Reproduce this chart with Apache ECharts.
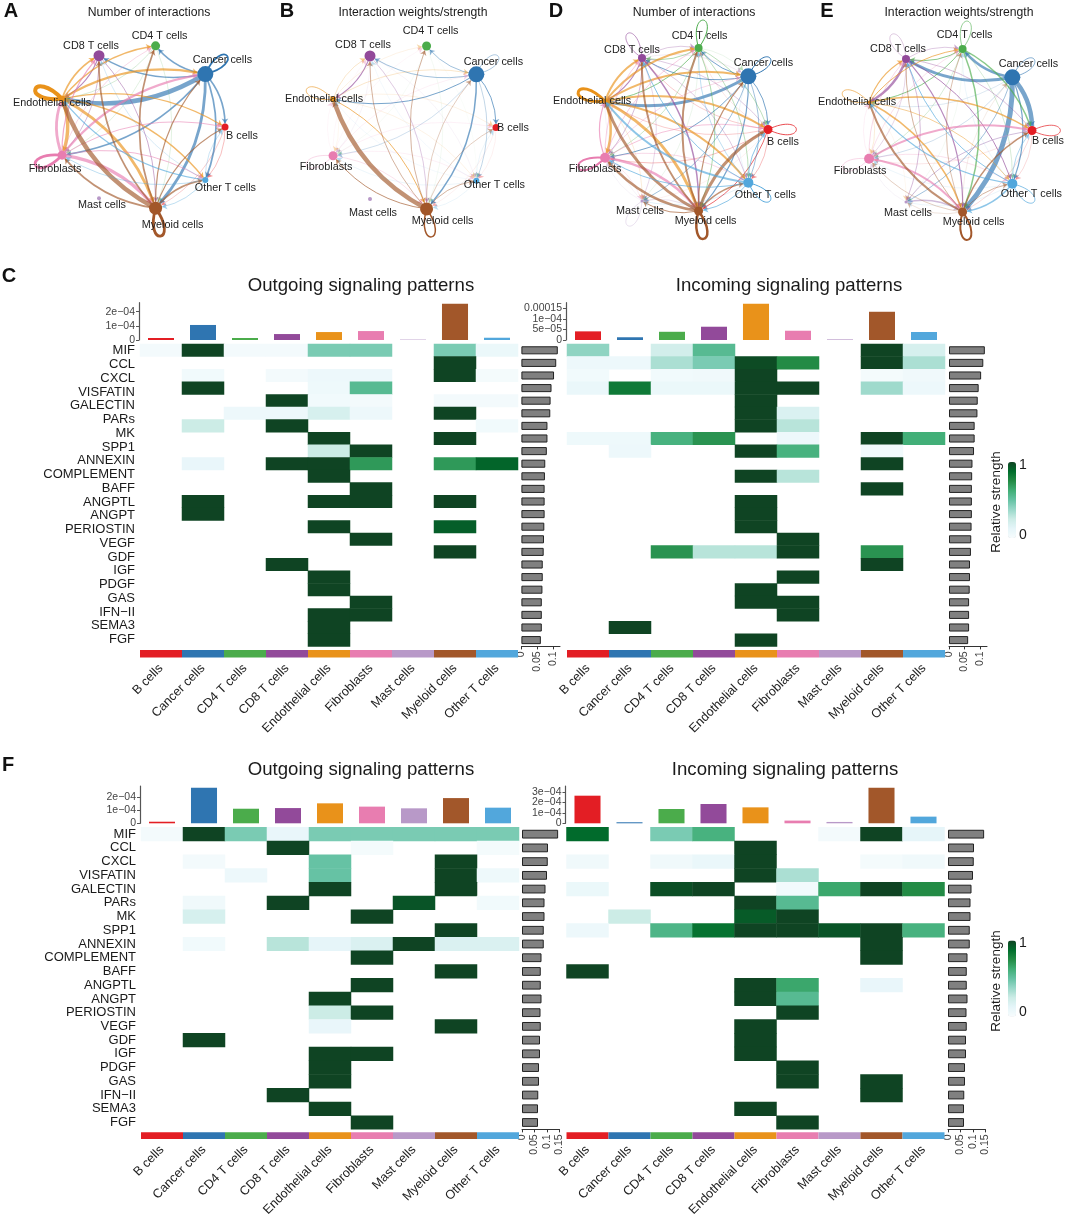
<!DOCTYPE html>
<html><head><meta charset="utf-8">
<style>html,body{margin:0;padding:0;background:#fff}#c{width:1065px;height:1219px}</style>
<script src="https://cdn.jsdelivr.net/npm/echarts@6/dist/echarts.min.js"></script>
</head><body><div id="c"></div>
<script>
const cells=['B cells','Cancer cells','CD4 T cells','CD8 T cells','Endothelial cells','Fibroblasts','Mast cells','Myeloid cells','Other T cells'];
const cellColors=['#E31E24','#2F75B1','#4BAC4B','#924A9A','#E9921A','#E87DB0','#B899C8','#A2572A','#52A7DC'];
const pathways=['MIF','CCL','CXCL','VISFATIN','GALECTIN','PARs','MK','SPP1','ANNEXIN','COMPLEMENT','BAFF','ANGPTL','ANGPT','PERIOSTIN','VEGF','GDF','IGF','PDGF','GAS','IFN\u2212II','SEMA3','FGF'];

// clockwise angle of each cell type on the circle (degrees), same order as cells
const nodeAngles=[0,320,280,240,200,160,120,80,40];
const nodeSizesAB=[7,16,9,11,6,9,4,13,6];
const nodeSizesDE=[9,16,8,8,3,10,3,9,10];

// edge weights: row = source, column = target, same order as cells
const edgesA=[
[0,0,0,0,0,0,0,.5,.6],
[1.7,1.7,1.7,1.4,4.5,1.7,0,2.8,1.7],
[0,0,0,0,.5,.4,0,.4,0],
[0,0,0,0,1.2,.7,0,.8,0],
[1.2,2.3,1.4,1.7,4,3.4,0,2.8,1.4],
[.9,2.3,.6,1.2,2.8,2.8,0,3.4,.9],
[0,0,0,0,0,0,0,0,0],
[1.2,1.2,1.7,1.7,4.5,1.7,0,2.8,1.7],
[.6,0,0,.5,1.2,.7,0,.7,0]];
const edgesB=[
[0,0,0,0,0,0,0,.2,.2],
[1,.4,.8,.8,1,.5,0,1.5,.6],
[0,0,0,0,0,.15,0,.2,.1],
[0,0,0,0,1.2,.2,0,.6,.2],
[.3,.5,.3,.5,.6,.2,0,1,.3],
[.3,.3,.2,.2,.2,.3,0,.5,.3],
[0,0,0,0,0,0,0,0,0],
[.6,.6,.8,.8,4.5,1,0,1.5,.8],
[.3,0,0,.2,.2,.3,0,.3,0]];
const edgesD=[
[.8,0,.3,.5,.5,.6,.2,1,.6],
[1,1,1,1,3,1,.8,1.2,.8],
[.7,.3,1,.8,1,.6,.3,.8,.7],
[.6,.3,.6,.6,1.2,.7,.5,1.5,.6],
[2,2,2,2,3,2.5,.4,3,2],
[.8,.6,.7,.7,1.2,2,.4,2.5,.6],
[0,0,0,0,.3,.3,.3,.6,0],
[3,1.2,2,2,3,2.5,1,2.5,1.5],
[1,.3,.7,1,2,1,.4,1,1]];
const edgesE=[
[.7,0,0,0,0,.3,0,.4,.4],
[4.5,.6,2.5,3,.4,.5,.8,5,1.2],
[1.5,0,.6,1,1,.5,.2,1.5,.5],
[.7,0,.6,.3,2.5,.5,.7,1.2,1],
[1.5,0,1,1.2,.6,.4,.2,1.5,.8],
[2,0,.5,.6,.3,.3,0,2,.5],
[1,0,0,0,0,.3,0,1.5,0],
[1.5,.3,.7,.8,2,.6,.4,2,.8],
[.8,0,.3,1,1.2,.3,.3,1.5,.7]];

// panel C, relative strength, columns follow cells; 24 drawn rows
const heatCOut=[
[.03,1,.03,.03,.45,.45,0,.45,.08],
[0,0,0,0,0,0,0,1,0],
[0,.04,0,.03,.07,.07,0,1,.02],
[0,1,0,0,.06,.55,0,0,0],
[0,0,0,1,.04,.03,0,.03,.03],
[0,0,.07,.07,.2,.07,0,1,0],
[0,.25,0,1,0,0,0,0,.04],
[0,0,0,0,1,0,0,1,0],
[0,0,0,0,.25,1,0,0,0],
[0,.1,0,1,1,.7,0,.7,.9],
[0,0,0,0,1,0,0,0,0],
[0,0,0,0,0,1,0,0,0],
[0,1,0,0,1,1,0,1,0],
[0,1,0,0,0,0,0,0,0],
[0,0,0,0,1,0,0,.92,0],
[0,0,0,0,0,1,0,0,0],
[0,0,0,0,0,0,0,1,0],
[0,0,0,1,0,0,0,0,0],
[0,0,0,0,1,0,0,0,0],
[0,0,0,0,1,0,0,0,0],
[0,0,0,0,0,1,0,0,0],
[0,0,0,0,1,1,0,0,0],
[0,0,0,0,1,0,0,0,0],
[0,0,0,0,1,0,0,0,0]];
const heatCIn=[
[.4,0,.22,.55,0,0,0,1,.2],
[.07,.07,.33,.45,.98,.75,0,1,.33],
[.04,0,.04,.05,1,0,0,.02,.05],
[.09,.82,.08,.08,1,1,0,.36,.07],
[0,0,0,0,1,0,0,0,0],
[0,0,0,0,1,.18,0,0,0],
[0,0,0,0,1,.3,0,0,0],
[.06,.06,.6,.72,0,.07,0,1,.62],
[0,.07,0,0,1,.6,0,.04,0],
[0,0,0,0,0,0,0,1,0],
[0,0,0,0,1,.3,0,0,0],
[0,0,0,0,0,0,0,1,0],
[0,0,0,0,1,0,0,0,0],
[0,0,0,0,1,0,0,0,0],
[0,0,0,0,1,0,0,0,0],
[0,0,0,0,0,1,0,0,0],
[0,0,.72,.3,.3,1,0,.72,0],
[0,0,0,0,0,0,0,1,0],
[0,0,0,0,0,1,0,0,0],
[0,0,0,0,1,0,0,0,0],
[0,0,0,0,1,1,0,0,0],
[0,0,0,0,0,1,0,0,0],
[0,1,0,0,0,0,0,0,0],
[0,0,0,0,1,0,0,0,0]];
// panel F, 22 rows
const heatFOut=[
[.03,1,.45,.1,.45,.45,.45,.45,.45],
[0,0,0,1,0,.02,0,0,.02],
[0,.03,0,0,.5,0,0,1,0],
[0,0,.07,0,.5,0,0,1,.06],
[0,0,0,0,1,0,0,1,0],
[0,.05,0,1,0,0,.95,0,.04],
[0,.2,0,0,0,1,0,0,0],
[0,0,0,0,0,0,0,1,0],
[0,.04,0,.3,.12,.18,1,.18,.18],
[0,0,0,0,0,1,0,0,0],
[0,0,0,0,0,0,0,1,0],
[0,0,0,0,0,1,0,0,0],
[0,0,0,0,1,0,0,0,0],
[0,0,0,0,.25,1,0,0,0],
[0,0,0,0,.1,0,0,1,0],
[0,1,0,0,0,0,0,0,0],
[0,0,0,0,1,1,0,0,0],
[0,0,0,0,1,0,0,0,0],
[0,0,0,0,1,0,0,0,0],
[0,0,0,1,0,0,0,0,0],
[0,0,0,0,1,0,0,0,0],
[0,0,0,0,0,1,0,0,0]];
const heatFIn=[
[.88,0,.45,.6,0,0,.03,1,.12],
[0,0,0,0,1,0,0,0,0],
[.05,0,.05,.09,1,0,0,.02,.05],
[0,0,0,0,1,.33,0,0,0],
[.08,0,.97,1,0,.04,.65,1,.75],
[0,0,0,0,1,.55,0,0,0],
[0,.25,0,0,.93,1,0,0,0],
[.07,0,.58,.85,1,1,.95,1,.6],
[0,0,0,0,0,0,0,1,0],
[0,0,0,0,0,0,0,1,0],
[1,0,0,0,0,0,0,0,0],
[0,0,0,0,1,.65,0,.1,0],
[0,0,0,0,1,.55,0,0,0],
[0,0,0,0,0,1,0,0,0],
[0,0,0,0,1,0,0,0,0],
[0,0,0,0,1,0,0,0,0],
[0,0,0,0,1,0,0,0,0],
[0,0,0,0,0,1,0,0,0],
[0,0,0,0,0,1,0,1,0],
[0,0,0,0,0,0,0,1,0],
[0,0,0,0,1,0,0,0,0],
[0,0,0,0,0,1,0,0,0]];

// top bars
const topCOut=[.14e-4,1.06e-4,.14e-4,.42e-4,.56e-4,.63e-4,.03e-4,2.56e-4,.16e-4];
const topCIn=[.41e-4,.13e-4,.39e-4,.63e-4,1.72e-4,.44e-4,.03e-4,1.34e-4,.38e-4];
const topFOut=[.12e-4,2.7e-4,1.11e-4,1.16e-4,1.52e-4,1.27e-4,1.14e-4,1.92e-4,1.19e-4];
const topFIn=[2.65e-4,.1e-4,1.37e-4,1.85e-4,1.53e-4,.26e-4,.13e-4,3.42e-4,.64e-4];
// right bars
const sideC=[.116,.111,.104,.096,.093,.092,.083,.083,.081,.076,.075,.074,.074,.074,.073,.072,.071,.068,.068,.067,.065,.065,.065,.062];
const sideF=[.1445,.104,.103,.1,.094,.09,.09,.087,.087,.078,.075,.075,.078,.074,.075,.072,.072,.068,.068,.065,.064,.064];
// tick values and labels
const ticksCOut=[0,1e-4,2e-4], labelsCOut=['0','1e\u221204','2e\u221204'];
const ticksCIn=[0,5e-5,1e-4,1.5e-4], labelsCIn=['0','5e\u221205','1e\u221204','0.00015'];
const ticksFOut=[0,1e-4,2e-4], labelsFOut=['0','1e\u221204','2e\u221204'];
const ticksFIn=[0,1e-4,2e-4,3e-4], labelsFIn=['0','1e\u221204','2e\u221204','3e\u221204'];
const sideTicksC=[0,.05,.1], sideTicksF=[0,.05,.1,.15];

const FONT='"Liberation Sans",Arial,sans-serif';
const BuGn=['#F7FCFD','#E5F5F9','#CCECE6','#99D8C9','#66C2A4','#41AE76','#238B45','#006D2C','#0F4423'];
const grid=[],xAxis=[],yAxis=[],series=[],graphic=[];

function text(t,x,y,size,opt){graphic.push({type:'text',x,y,rotation:(opt&&opt.rot)||0,style:{text:t,fill:(opt&&opt.fill)||'#1a1a1a',
  font:((opt&&opt.bold)?'bold ':'')+size+'px '+FONT,align:(opt&&opt.align)||'center',verticalAlign:'middle'}});}

function network(edges,sizes,cx,cy,rx,ry,labelOffsets){
  const g=grid.length;
  grid.push({left:cx-rx,top:cy-ry,width:2*rx,height:2*ry});
  xAxis.push({type:'value',gridIndex:g,min:-1,max:1,show:false});
  yAxis.push({type:'value',gridIndex:g,min:-1,max:1,inverse:true,show:false});
  const xi=xAxis.length-1,yi=yAxis.length-1;
  const xy=nodeAngles.map(a=>[Math.cos(a*Math.PI/180),Math.sin(a*Math.PI/180)]);
  const links=[],loops=[];
  edges.forEach((row,i)=>row.forEach((w,j)=>{
    if(!w)return;
    const opacity=w>=1?.65:.25+.4*w;
    if(i===j)loops.push({value:[xy[i][0],xy[i][1],w],itemStyle:{color:cellColors[i],opacity}});
    else links.push({source:cells[i],target:cells[j],lineStyle:{width:w,color:cellColors[i],opacity,curveness:.2}});
  }));
  series.push({type:'custom',coordinateSystem:'cartesian2d',xAxisIndex:xi,yAxisIndex:yi,z:1,clip:false,silent:true,
    data:loops,encode:{x:0,y:1},renderItem:(p,api)=>{
      const x=api.value(0),y=api.value(1),w=api.value(2),c=api.coord([x,y]),t=Math.atan2(y,x),L=42,s=.45;
      return {type:'bezierCurve',shape:{x1:c[0],y1:c[1],x2:c[0],y2:c[1],
        cpx1:c[0]+L*Math.cos(t-s),cpy1:c[1]+L*Math.sin(t-s),cpx2:c[0]+L*Math.cos(t+s),cpy2:c[1]+L*Math.sin(t+s)},
        style:{stroke:api.visual('color'),fill:null,lineWidth:w,opacity:api.visual('opacity')}};
    }});
  series.push({type:'graph',coordinateSystem:'cartesian2d',xAxisIndex:xi,yAxisIndex:yi,z:2,silent:true,
    edgeSymbol:['none','arrow'],edgeSymbolSize:[0,5],
    data:cells.map((n,i)=>({name:n,value:xy[i],symbolSize:sizes[i],itemStyle:{color:cellColors[i]},
      label:{show:true,position:'inside',offset:labelOffsets[i],color:'#222',fontSize:10.8,fontFamily:FONT}})),
    links});
}

function heat(title,titleX,titleY,left,top,rowH,rows,rowCount,topVals,topMax,ticks,tickLabels,topH,topBottomGap,side,sideMax,sideTicks,sideLeft,sideW,stripGap,stripH){
  const w=378,h=rowH*rowCount,bottom=top+h;
  text(title,titleX,titleY,18.6);
  // top bars: two value axes over the same scale so that neighbouring tick labels are both kept
  let g=grid.length;
  const tickFmt=v=>tickLabels[ticks.findIndex(t=>Math.abs(t-v)<1e-7)]||'';
  const labelStyle={show:true,showMinLabel:true,showMaxLabel:true,color:'#444',fontSize:10.5,fontFamily:FONT,margin:4,formatter:tickFmt};
  grid.push({left,top:top-topBottomGap-topH,width:w,height:topH});
  xAxis.push({type:'category',gridIndex:g,data:cells,show:false});
  yAxis.push({type:'value',gridIndex:g,min:0,max:topMax,offset:1,position:'left',
    axisLine:{show:true,lineStyle:{color:'#555',width:1.2}},axisTick:{show:true,length:3,lineStyle:{color:'#555'},customValues:ticks},
    splitLine:{show:false},axisLabel:Object.assign({customValues:ticks.filter((_,i)=>i%2===0)},labelStyle)});
  series.push({type:'bar',xAxisIndex:xAxis.length-1,yAxisIndex:yAxis.length-1,barWidth:'62%',silent:true,
    data:topVals.map((v,i)=>({value:v,itemStyle:{color:cellColors[i]}}))});
  yAxis.push({type:'value',gridIndex:g,min:0,max:topMax,offset:1,position:'left',
    axisLine:{show:false},axisTick:{show:false},splitLine:{show:false},
    axisLabel:Object.assign({customValues:ticks.filter((_,i)=>i%2===1)},labelStyle)});
  // heat
  g=grid.length;
  const rowIds=rows.map((_,i)=>String(i));
  grid.push({left,top,width:w,height:h});
  xAxis.push({type:'category',gridIndex:g,data:cells,show:false});
  yAxis.push({type:'category',gridIndex:g,data:rowIds,inverse:true,show:false});
  const rowAxis=yAxis.length-1, heatX=xAxis.length-1;
  yAxis.push({type:'category',gridIndex:g,data:pathways,inverse:true,position:'left',show:left<300,
    axisLine:{show:false},axisTick:{show:false},axisLabel:{interval:0,color:'#1a1a1a',fontSize:13,fontFamily:FONT,margin:5}});
  const cellsData=[];
  rows.forEach((r,y)=>r.forEach((v,x)=>{if(v>0)cellsData.push([x,y,v]);}));
  series.push({type:'heatmap',xAxisIndex:heatX,yAxisIndex:rowAxis,data:cellsData,silent:true,itemStyle:{borderWidth:0}});
  heatSeries.push(series.length-1);
  // side bars
  const ga=grid.length;
  grid.push({left:sideLeft,top,width:sideW,height:h});
  xAxis.push({type:'value',gridIndex:ga,min:0,max:sideMax,position:'bottom',
    axisLine:{show:true,lineStyle:{color:'#333',width:1}},axisTick:{show:true,length:3,lineStyle:{color:'#333'},customValues:sideTicks},
    splitLine:{show:false},axisLabel:{customValues:sideTicks,showMinLabel:true,showMaxLabel:true,rotate:90,color:'#444',fontSize:10.5,fontFamily:FONT,margin:5,formatter:v=>String(v)}});
  yAxis.push({type:'category',gridIndex:ga,data:rowIds,inverse:true,show:false});
  series.push({type:'bar',xAxisIndex:xAxis.length-1,yAxisIndex:yAxis.length-1,barWidth:'64%',silent:true,
    itemStyle:{color:'#808080',borderColor:'#222',borderWidth:1},data:side});
  // colour strip with cell names
  g=grid.length;
  grid.push({left,top:bottom+stripGap,width:w,height:stripH});
  xAxis.push({type:'category',gridIndex:g,data:cells,axisLine:{show:false},axisTick:{show:false},
    axisLabel:{interval:0,rotate:45,color:'#222',fontSize:12.6,fontFamily:FONT,margin:9}});
  yAxis.push({type:'value',gridIndex:g,min:0,max:1,show:false});
  series.push({type:'bar',xAxisIndex:xAxis.length-1,yAxisIndex:yAxis.length-1,barWidth:'100%',silent:true,
    data:cells.map((c,i)=>({value:1,itemStyle:{color:cellColors[i]}}))});
}

let heatSeries=[];
// networks
network(edgesA,nodeSizesAB,141,127,84,82.4,[[17,9],[17,-14],[4,-10],[-8,-10],[-10,4],[-7,14],[3,7],[17,17],[20,8]]);
network(edgesB,nodeSizesAB,412,127.5,84,82.7,[[17,1],[17,-12],[4,-15],[-7,-11],[-9,0],[-7,11],[3,14],[16,12],[18,4]]);
network(edgesD,nodeSizesDE,684,129.5,84,82.7,[[15,13],[15,-13],[1,-12],[-10,-8],[-13,0],[-10,11],[-2,10],[7,10],[17,12]]);
network(edgesE,nodeSizesDE,948,130.5,84,82.7,[[16,11],[16,-13],[2,-14],[-8,-10],[-12,0],[-9,12],[2,11],[11,10],[19,10]]);
[['Number of interactions',149,13],['Interaction weights/strength',413,13],['Number of interactions',694,13],['Interaction weights/strength',959,13]]
  .forEach(t=>text(t[0],t[1],t[2],12.2));
[['A',11,11],['B',287,11],['D',556,11],['E',827,11],['C',9,276],['F',8,765]].forEach(t=>text(t[0],t[1],t[2],20,{bold:true,fill:'#111'}));

// panel C
heat('Outgoing signaling patterns',361,286,140,344,12.6,heatCOut,24,topCOut,2.63e-4,ticksCOut,labelsCOut,37.3,4,sideC,.123,sideTicksC,521.4,38.6,3.5,7.5);
heat('Incoming signaling patterns',789,286,567,344,12.6,heatCIn,24,topCIn,1.77e-4,ticksCIn,labelsCIn,37.3,4,sideC,.123,sideTicksC,949,38,3.5,7.5);
const heatC=heatSeries; heatSeries=[];
// panel F
heat('Outgoing signaling patterns',361,770,141,827.3,13.73,heatFOut,22,topFOut,2.84e-4,ticksFOut,labelsFOut,37.3,4,sideF,.15,sideTicksF,522,37.5,3,8);
heat('Incoming signaling patterns',785,770,566.5,827.3,13.73,heatFIn,22,topFIn,3.58e-4,ticksFIn,labelsFIn,37.3,4,sideF,.15,sideTicksF,948,37.5,3,8);
const heatF=heatSeries;

function legendLabels(top,bot,mid){text('Relative strength',996,mid,13.5,{rot:Math.PI/2});text('1',1023,top,14,{});text('0',1023,bot,14,{});}
legendLabels(465,535,502);legendLabels(943,1012,981);
const vm=(seriesIndex,top)=>({type:'continuous',min:0,max:1,seriesIndex,left:1008,top,padding:0,itemWidth:8,itemHeight:76,calculable:false,realtime:false,hoverLink:false,
  showLabel:false,inRange:{color:BuGn},textStyle:{fontSize:0},handleSize:0,indicatorSize:0});

const chart=echarts.init(document.getElementById('c'),null,{renderer:'canvas'});
chart.setOption({animation:false,backgroundColor:'#fff',textStyle:{fontFamily:FONT},grid,xAxis,yAxis,series,graphic,
  visualMap:[vm(heatC,462),vm(heatF,940.5)]});
</script></body></html>
